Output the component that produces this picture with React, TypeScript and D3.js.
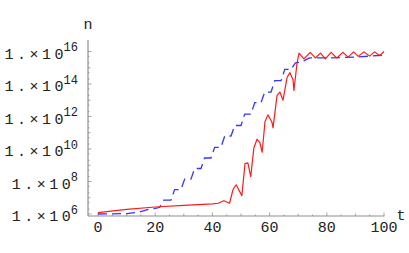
import React, { useRef, useEffect } from 'react';
import * as d3 from 'd3';

// red curve (solid)
const redT = [0, 10, 20, 30, 40, 42, 44, 46, 47.2, 48.3, 50.3, 51.4, 52.4, 53.4, 54.5, 55.6, 56.6, 57.4, 58.4, 59.4, 60.8, 61.2, 62.6, 63.6, 64.7, 66.1, 67.1, 68.2, 68.5, 69.6, 70.3, 72, 74.2, 76, 77.8, 79.5, 81.5, 83.5, 85.6, 87.5, 89.4, 91, 93, 95, 96.7, 98.5, 100];
const redN = [1.2e6, 1.9e6, 2.7e6, 3.4e6, 4.2e6, 4.6e6, 6.6e6, 4.6e6, 3.2e7, 6.3e7, 1.35e7, 1.26e9, 1.4e9, 2.0e8, 1.15e10, 4.0e10, 2.5e10, 6.3e9, 5.0e11, 1.26e12, 4.6e11, 2.0e11, 2.0e13, 3.2e13, 1.0e13, 2.5e14, 5.0e14, 1.8e14, 4.0e13, 2.0e15, 7.9e15, 3.5e15, 8.9e15, 4.0e15, 7.9e15, 3.5e15, 8.9e15, 4.0e15, 8.9e15, 4.5e15, 9.5e15, 5.0e15, 9.5e15, 5.2e15, 9.5e15, 5.6e15, 1.0e16];

// blue curve (dashed, stair-like)
const blueT = [0, 10, 14, 18, 20, 21.5, 23, 25.5, 26.8, 29, 30.3, 32.5, 33.8, 36, 37.3, 39.5, 40.8, 43, 44.3, 46.5, 47.8, 50, 51.3, 53.5, 54.8, 57, 58.3, 60.5, 61.8, 64, 65.3, 67.5, 69, 71, 74, 80, 90, 100];
const blueN = [1.0e6, 1.05e6, 1.26e6, 2.0e6, 2.2e6, 2.5e6, 7.1e6, 7.1e6, 3.2e7, 3.2e7, 1.4e8, 1.4e8, 6.3e8, 6.3e8, 2.8e9, 2.8e9, 1.26e10, 1.26e10, 6.3e10, 6.3e10, 2.8e11, 2.8e11, 1.4e12, 1.4e12, 7.1e12, 7.1e12, 3.2e13, 3.2e13, 1.6e14, 1.6e14, 7.9e14, 7.9e14, 2.0e15, 2.2e15, 4.0e15, 4.0e15, 4.5e15, 6.0e15];

const xTicks = [0, 20, 40, 60, 80, 100];
const yTickExps = [6, 8, 10, 12, 14, 16];

const W = 409;
const H = 253;
const FONT = '"Liberation Mono", "DejaVu Sans Mono", monospace';
const AXIS = '#8e8e8e';

export default function App() {
  const svgRef = useRef<SVGSVGElement>(null);

  useEffect(() => {
    if (!svgRef.current) return;
    const svg = d3.select(svgRef.current);
    svg.selectAll('*').remove();

    const x = d3.scaleLinear().domain([0, 100]).range([98, 384]);
    const y = d3.scaleLog().domain([1e6, 1e16]).range([214, 51.5]);

    const axisX = 88;
    const axisY = 216;

    // axes lines
    svg.append('line')
      .attr('x1', axisX).attr('x2', 384.5)
      .attr('y1', axisY).attr('y2', axisY)
      .attr('stroke', AXIS).attr('stroke-width', 1.2);
    svg.append('line')
      .attr('x1', axisX).attr('x2', axisX)
      .attr('y1', 40).attr('y2', axisY)
      .attr('stroke', AXIS).attr('stroke-width', 1.2);

    // x ticks
    const xMinor = d3.range(0, 101, 5);
    svg.append('g').selectAll('line')
      .data(xMinor)
      .enter()
      .append('line')
      .attr('x1', d => x(d)).attr('x2', d => x(d))
      .attr('y1', axisY)
      .attr('y2', d => axisY - (d % 20 === 0 ? 3.5 : d % 10 === 0 ? 2.5 : 1.5))
      .attr('stroke', AXIS).attr('stroke-width', 0.8);

    svg.append('g').selectAll('text')
      .data(xTicks)
      .enter()
      .append('text')
      .attr('x', d => x(d))
      .attr('y', 231.5)
      .attr('text-anchor', 'middle')
      .attr('font-family', FONT)
      .attr('font-size', 15)
      .attr('fill', '#222')
      .text(d => d);

    // y ticks: majors at even decades, minors in between
    const yMinor: number[] = [];
    for (let e = 5; e <= 16; e++) {
      [1, 2, 5].forEach(m => {
        const v = m * Math.pow(10, e);
        if (v >= 8e5 && v <= 1.5e16) yMinor.push(v);
      });
    }
    svg.append('g').selectAll('line')
      .data(yMinor)
      .enter()
      .append('line')
      .attr('x1', axisX)
      .attr('x2', d => {
        const e = Math.log10(d);
        const isDecade = Math.abs(e - Math.round(e)) < 1e-6;
        if (isDecade && Math.round(e) % 2 === 0) return axisX + 3.5;
        if (isDecade) return axisX + 2.5;
        return axisX + 1.5;
      })
      .attr('y1', d => y(d)).attr('y2', d => y(d))
      .attr('stroke', AXIS).attr('stroke-width', 0.8);

    const yLabels = svg.append('g').selectAll('text')
      .data(yTickExps)
      .enter()
      .append('text')
      .attr('x', 78)
      .attr('y', d => y(Math.pow(10, d)) + 7)
      .attr('text-anchor', 'end')
      .attr('font-family', FONT)
      .attr('fill', '#222');
    yLabels.append('tspan')
      .attr('font-size', 15)
      .attr('letter-spacing', 3.5)
      .text('1.\u00d71');
    yLabels.append('tspan')
      .attr('font-size', 15)
      .text('0');
    yLabels.append('tspan')
      .attr('font-size', 12)
      .attr('dy', -7.4)
      .text(d => d);

    // axis names
    svg.append('text')
      .attr('x', 88).attr('y', 28.5)
      .attr('text-anchor', 'middle')
      .attr('font-family', FONT).attr('font-size', 15)
      .attr('fill', '#222')
      .text('n');
    svg.append('text')
      .attr('x', 401).attr('y', 220)
      .attr('text-anchor', 'middle')
      .attr('font-family', FONT).attr('font-size', 15)
      .attr('fill', '#222')
      .text('t');

    const line = d3.line<[number, number]>()
      .x(d => x(d[0]))
      .y(d => y(d[1]));

    const blueData = blueT.map((t, i) => [t, blueN[i]] as [number, number]);
    const redData = redT.map((t, i) => [t, redN[i]] as [number, number]);

    svg.append('path')
      .attr('d', line(blueData))
      .attr('fill', 'none')
      .attr('stroke', '#3636ff')
      .attr('stroke-width', 1.3)
      .attr('stroke-dasharray', '9,5');

    svg.append('path')
      .attr('d', line(redData))
      .attr('fill', 'none')
      .attr('stroke', '#ff1a1a')
      .attr('stroke-width', 1.2)
      .attr('stroke-linejoin', 'round');
  }, []);

  return (
    <svg
      ref={svgRef}
      width={W}
      height={H}
      style={{ position: 'absolute', left: 0, top: 0, background: '#fff' }}
    />
  );
}
